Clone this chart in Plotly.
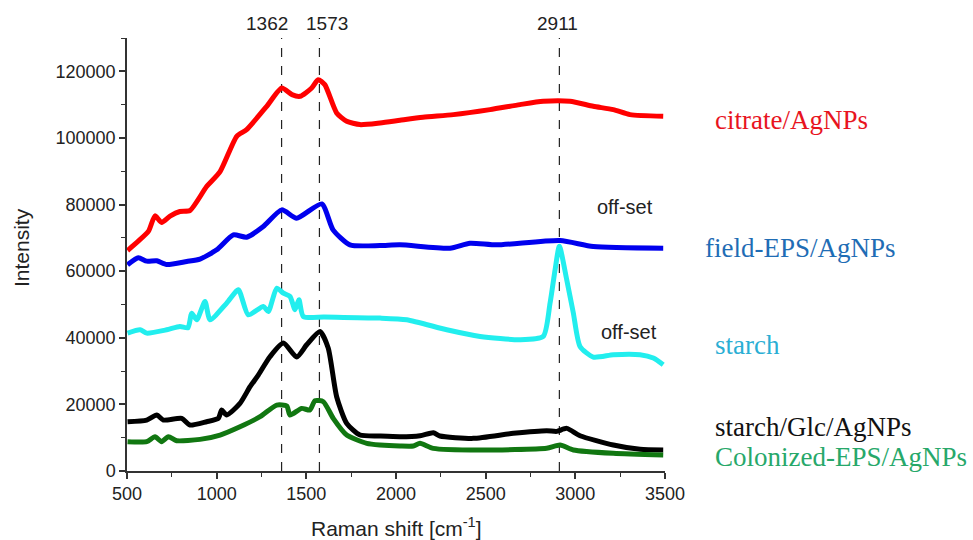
import plotly.graph_objects as go

# ---- data ----
citrate_x = [503, 563, 620, 656, 693, 740, 795, 851, 944, 1019, 1112, 1167, 1279, 1363, 1420, 1465, 1530, 1566, 1603, 1669, 1725, 1799, 1911, 2022, 2150, 2320, 2524, 2691, 2821, 2970, 3100, 3212, 3305, 3490]
citrate_y = [66200, 69000, 72000, 76600, 74600, 76500, 77900, 78200, 85400, 89900, 100500, 102500, 109500, 115000, 113000, 112500, 115000, 117500, 116000, 107500, 105000, 104000, 104500, 105300, 106200, 107000, 108500, 110000, 111000, 111000, 109500, 108500, 107000, 106500]

field_x = [503, 563, 610, 666, 721, 833, 907, 1000, 1093, 1167, 1260, 1363, 1446, 1586, 1649, 1743, 1911, 2022, 2301, 2412, 2561, 2915, 3100, 3490]
field_y = [61900, 64000, 63000, 63100, 62000, 62900, 63600, 66400, 70900, 70200, 73400, 78400, 75900, 80200, 72400, 67900, 67700, 67900, 66900, 68400, 67900, 69200, 67400, 66900]

starch_x = [503, 573, 610, 721, 795, 840, 861, 889, 935, 963, 1056, 1121, 1176, 1260, 1288, 1335, 1372, 1409, 1437, 1459, 1483, 1600, 1911, 2060, 2283, 2469, 2691, 2821, 2859, 2887, 2911, 2952, 2989, 3026, 3100, 3212, 3361, 3435, 3490]
starch_y = [41400, 42400, 41400, 42400, 43400, 43000, 47400, 45400, 50900, 45400, 50400, 54400, 46900, 49400, 47900, 54900, 53400, 52400, 48400, 51400, 46400, 46200, 45900, 45400, 42400, 40400, 39400, 40400, 50400, 60400, 67500, 57400, 47400, 37400, 34200, 34900, 34900, 33900, 31900]

glc_x = [503, 610, 666, 703, 805, 851, 944, 1009, 1028, 1056, 1130, 1186, 1232, 1297, 1372, 1446, 1502, 1576, 1622, 1669, 1725, 1799, 1911, 2022, 2134, 2208, 2245, 2431, 2654, 2840, 2896, 2952, 3026, 3212, 3361, 3490]
glc_y = [14800, 15300, 16800, 15300, 15800, 13800, 14800, 15800, 18300, 16800, 20300, 25300, 28800, 34300, 38400, 34200, 37900, 41900, 36900, 22300, 14300, 10800, 10500, 10300, 10600, 11500, 10500, 9800, 11300, 12100, 11900, 12800, 10600, 7800, 6500, 6300]

col_x = [503, 610, 656, 693, 731, 777, 907, 1019, 1130, 1242, 1335, 1391, 1409, 1474, 1520, 1548, 1595, 1650, 1725, 1837, 1911, 2022, 2097, 2134, 2208, 2469, 2840, 2915, 2989, 3212, 3490]
col_y = [8800, 8800, 10300, 8800, 10300, 9100, 9500, 10800, 13300, 16300, 19800, 19500, 16800, 18800, 18300, 21100, 20800, 15800, 10800, 8300, 7800, 7500, 7500, 8300, 6800, 6300, 6800, 7800, 6300, 5300, 4800]

peaks = [1362, 1573, 2911]
peak_label_shift = [-15, 8, -2]
series_names = ["citrate/AgNPs", "field-EPS/AgNPs", "starch", "starch/Glc/AgNPs", "Colonized-EPS/AgNPs"]
line_colors = ["#ff0000", "#0000ee", "#22eeee", "#000000", "#117711"]
label_colors = ["#e8141e", "#1f6db5", "#2aaed4", "#111111", "#27a86a"]
label_x = [1.089, 1.071, 1.089, 1.089, 1.089]
label_y = [0.811, 0.515, 0.291, 0.102, 0.032]
offset_x = [3277, 3302]
offset_y = [79300, 41800]
x_title = "Raman shift [cm<sup>-1</sup>]"
y_title = "Intensity"

fig = go.Figure()
for name, xs, ys, c in zip(series_names,
                            [citrate_x, field_x, starch_x, glc_x, col_x],
                            [citrate_y, field_y, starch_y, glc_y, col_y],
                            line_colors):
    fig.add_trace(go.Scatter(x=xs, y=ys, mode="lines", name=name,
                             line=dict(color=c, width=5, shape="spline", smoothing=0.6),
                             showlegend=False))

for p, sh in zip(peaks, peak_label_shift):
    fig.add_shape(type="line", x0=p, x1=p, xref="x", yref="paper", y0=0, y1=1,
                  line=dict(color="#222222", width=1.2, dash="dash"), layer="below")
    fig.add_annotation(x=p, y=1.0, xref="x", yref="paper", text=str(p), showarrow=False,
                       yanchor="bottom", yshift=2, xshift=sh,
                       font=dict(family="Liberation Sans, Arial", size=19, color="#222222"))

for name, col, xx, yy in zip(series_names, label_colors, label_x, label_y):
    fig.add_annotation(x=xx, y=yy, xref="paper", yref="paper", text=name, showarrow=False,
                       xanchor="left", yanchor="middle",
                       font=dict(family="Liberation Serif, Times New Roman", size=27, color=col))

for ox, oy in zip(offset_x, offset_y):
    fig.add_annotation(x=ox, y=oy, xref="x", yref="y", text="off-set", showarrow=False,
                       font=dict(family="Liberation Sans, Arial", size=20, color="#222222"))

title_font = dict(family="Liberation Sans, Arial", size=21, color="#222222")
fig.add_annotation(x=0.5, y=-0.129, xref="paper", yref="paper", text=x_title, showarrow=False,
                   xanchor="center", yanchor="middle", font=title_font)
fig.add_annotation(x=-0.197, y=0.515, xref="paper", yref="paper", text=y_title, showarrow=False,
                   xanchor="center", yanchor="middle", textangle=-90, font=title_font)

axis_font = dict(family="Liberation Sans, Arial", size=18, color="#222222")
fig.update_xaxes(range=[500, 3500], tickvals=[500, 1000, 1500, 2000, 2500, 3000, 3500],
                 showgrid=False, zeroline=False, showline=True, linecolor="#333333", linewidth=1.5,
                 ticks="outside", ticklen=6, tickwidth=1.5, tickcolor="#333333",
                 minor=dict(ticks="outside", dtick=250, ticklen=4, tickwidth=1.2, tickcolor="#333333"),
                 tickfont=axis_font, automargin=False)
fig.update_yaxes(range=[0, 130000], tickvals=[0, 20000, 40000, 60000, 80000, 100000, 120000],
                 showgrid=False, zeroline=False, showline=True, linecolor="#333333", linewidth=1.5,
                 ticks="outside", ticklen=6, tickwidth=1.5, tickcolor="#333333",
                 minor=dict(ticks="outside", dtick=10000, ticklen=4, tickwidth=1.2, tickcolor="#333333"),
                 tickfont=axis_font, tickformat="d", automargin=False)

fig.update_layout(width=973, height=540, margin=dict(l=127, r=308, t=38, b=69),
                  plot_bgcolor="white", paper_bgcolor="white")
fig.write_html("out.html")
